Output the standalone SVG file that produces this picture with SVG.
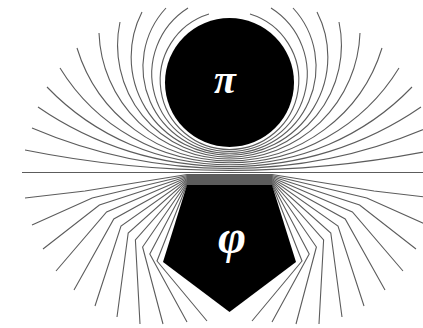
<svg xmlns="http://www.w3.org/2000/svg" width="423" height="328" viewBox="0 0 423 328">
<style>
.fl{fill:none;stroke:#5c5c5c;stroke-width:1.1}
.body{fill:#000}
.lbl{fill:#fff;font-family:"Liberation Serif","DejaVu Serif",serif;font-style:italic;font-weight:bold;text-anchor:middle}
</style>
<rect width="423" height="328" fill="#fff"/>
<g id="connectors">
<path class="fl" d="M209,14 A69.3,69.3 0 0 0 229.5,149.5 A69.3,69.3 0 0 0 250,14"/>
<path class="fl" d="M188,8 A77.7,77.7 0 0 0 229.5,151.4 A77.7,77.7 0 0 0 271,8"/>
<path class="fl" d="M166,8 A86.5,86.5 0 0 0 229.5,153.3 A86.5,86.5 0 0 0 293,8"/>
<path class="fl" d="M142,12 A98.3,98.3 0 0 0 229.5,155.2 A98.3,98.3 0 0 0 317,12"/>
<path class="fl" d="M120,22 A111.9,111.9 0 0 0 229.5,157.1 A111.9,111.9 0 0 0 339,22"/>
<path class="fl" d="M99,33 A130.6,130.6 0 0 0 229.5,159 A130.6,130.6 0 0 0 360,33"/>
<path class="fl" d="M77,48 A159.4,159.4 0 0 0 229.5,160.9 A159.4,159.4 0 0 0 382,48"/>
<path class="fl" d="M60,68 A198.9,198.9 0 0 0 229.5,162.8 A198.9,198.9 0 0 0 399,68"/>
<path class="fl" d="M47,87 A253.2,253.2 0 0 0 229.5,164.7 A253.2,253.2 0 0 0 412,87"/>
<path class="fl" d="M38,107 A337.5,337.5 0 0 0 229.5,166.6 A337.5,337.5 0 0 0 421,107"/>
<path class="fl" d="M32,128 A501.8,501.8 0 0 0 229.5,168.5 A501.8,501.8 0 0 0 427,128"/>
<path class="fl" d="M25,150 A1035,1035 0 0 0 229.5,170.4 A1035,1035 0 0 0 434,150"/>
<path class="fl" d="M22,172.5 H437"/>
<path class="fl" d="M25,198 L85,191 L187,174.5 H272 L374,191 L434,198"/>
<path class="fl" d="M32,225 L92.2,198 L187,175.5 H272 L366.8,198 L427,225"/>
<path class="fl" d="M43,249 L99.4,205 L187,176.5 H272 L359.6,205 L416,249"/>
<path class="fl" d="M56,271 L106.6,212 L187,177.5 H272 L352.4,212 L403,271"/>
<path class="fl" d="M74,290 L113.8,219 L187,178.5 H272 L345.2,219 L385,290"/>
<path class="fl" d="M95,306 L121,226 L187,179.5 H272 L338,226 L364,306"/>
<path class="fl" d="M117,317 L128.2,233 L187,180.5 H272 L330.8,233 L342,317"/>
<path class="fl" d="M140,324 L135.4,240 L187,181.5 H272 L323.6,240 L319,324"/>
<path class="fl" d="M163,324 L142.6,247 L187,182.5 H272 L316.4,247 L296,324"/>
<path class="fl" d="M187,322 L149.8,254 L187,183.5 H272 L309.2,254 L272,322"/>
<path class="fl" d="M207,321 L157,261 L187,184.5 H272 L302,261 L252,321"/>
</g>
<g id="node-pi">
<circle class="body" cx="229.5" cy="82.5" r="64.5"/>
<text class="lbl" x="225" y="93" font-size="40">π</text>
</g>
<g id="node-phi">
<polygon class="body" points="187,185 272,185 296,262 229.5,312 163,262"/>
<text class="lbl" x="232" y="253" font-size="48">φ</text>
</g>
</svg>
